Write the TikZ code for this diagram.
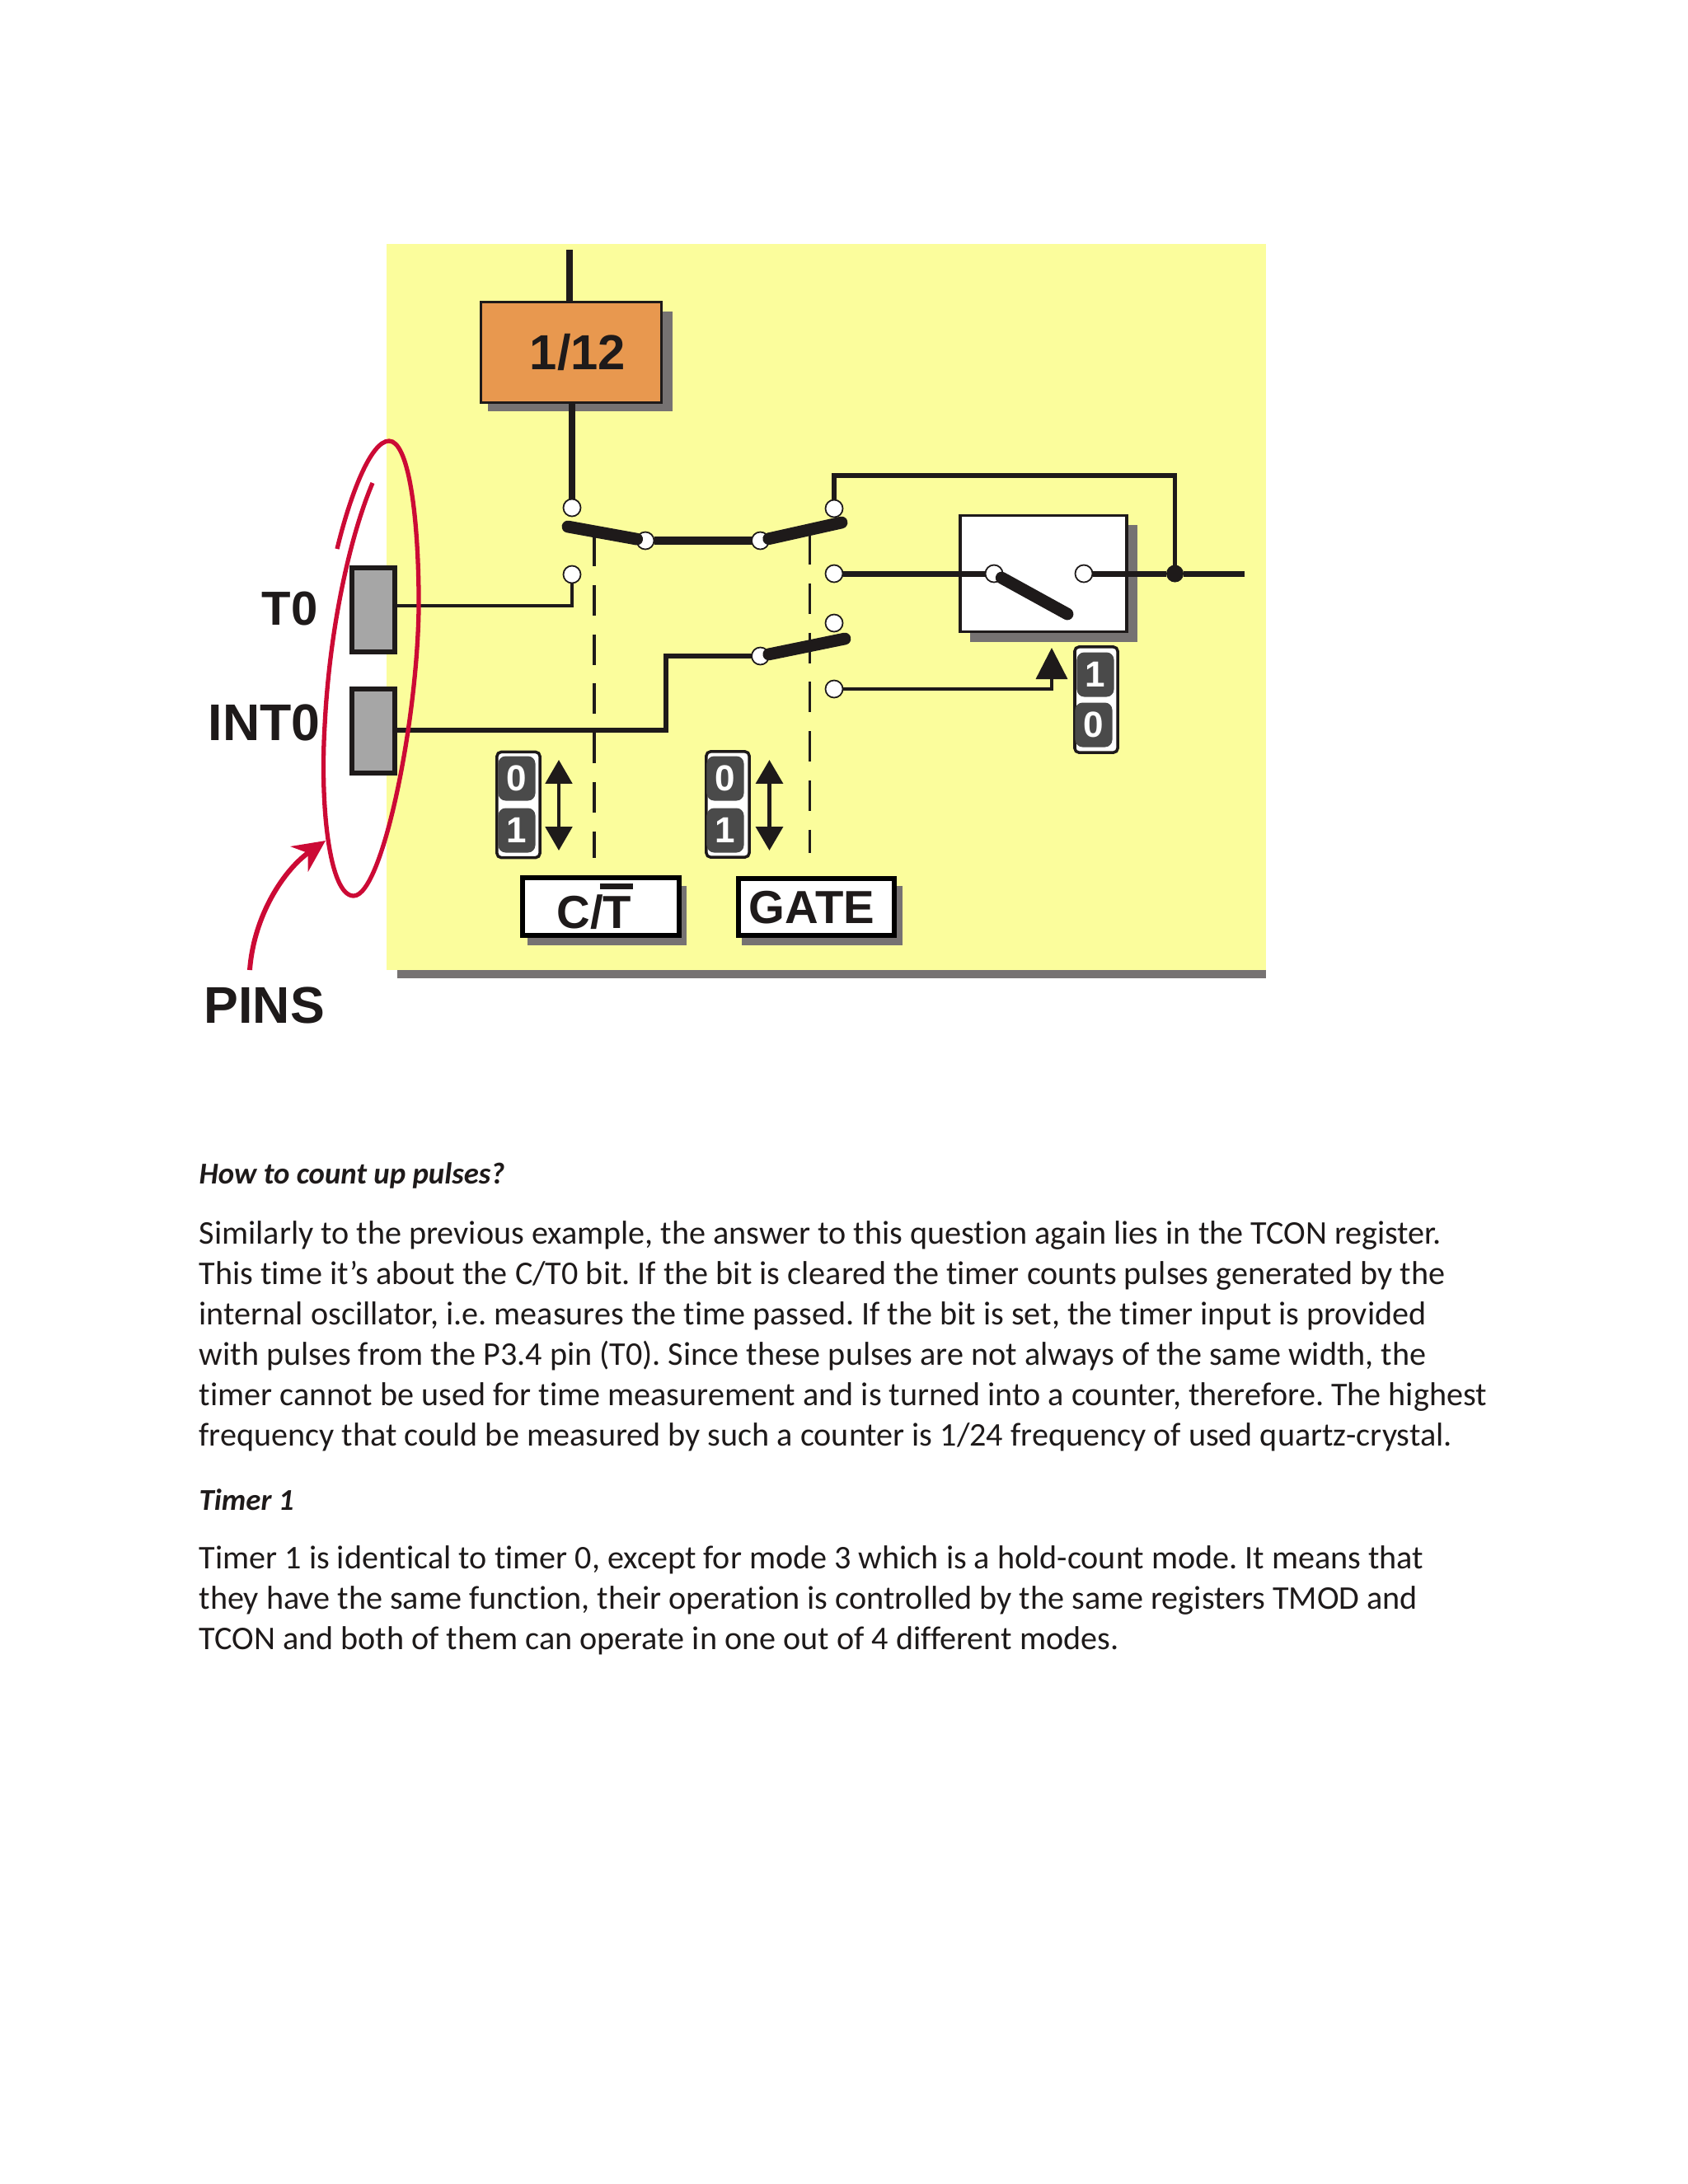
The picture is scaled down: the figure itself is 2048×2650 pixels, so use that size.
\documentclass[tikz,border=0pt]{standalone}
\usepackage{fontspec}
\usepackage{xcolor}
\setmainfont{Liberation Sans}
\newfontfamily\bodyfont[Ligatures=NoCommon]{Carlito}
\usetikzlibrary{arrows.meta}
\definecolor{panelyellow}{HTML}{FBFD9C}
\definecolor{shadowgrey}{HTML}{767272}
\definecolor{boxorange}{HTML}{E8984F}
\definecolor{pingrey}{HTML}{A6A6A6}
\definecolor{bitgrey}{HTML}{4A4A4A}
\definecolor{inkblack}{HTML}{1E1A1A}
\definecolor{penred}{HTML}{CC0A35}
\tikzset{
  contact/.style={circle,draw=inkblack,fill=white,line width=0.5pt,minimum size=0.21cm,inner sep=0pt,outer sep=0pt},
  wire/.style={inkblack,line width=2pt},
  thinwire/.style={inkblack,line width=1pt},
  blade/.style={inkblack,line width=4.2pt,line cap=round},
  dashline/.style={inkblack,line width=1pt,dash pattern=on 10.5pt off 6.5pt},
  pinbox/.style={draw=inkblack,line width=1.7pt,fill=pingrey,inner sep=0pt,outer sep=0pt,minimum width=0.51cm,minimum height=1.02cm},
  labelbox/.style={draw=black,line width=1.8pt,fill=white,inner sep=0pt,outer sep=0pt},
  labeltext/.style={font=\fontsize{16}{18}\selectfont\bfseries,text=inkblack,inner sep=0pt},
  pintext/.style={font=\fontsize{16.5}{20}\selectfont\bfseries,text=inkblack,inner sep=0pt},
  badge/.style={draw=inkblack,line width=1pt,fill=white,rounded corners=0.05cm,inner sep=0pt,minimum width=0.52cm,minimum height=1.28cm},
  bit/.style={fill=bitgrey,rounded corners=0.09cm,inner sep=0pt,minimum width=0.45cm,minimum height=0.54cm,text=white,font=\fontsize{12.5}{14}\selectfont\bfseries},
  updown/.style={inkblack,line width=1.1pt,{Triangle[length=8.2pt,width=9.2pt]}-{Triangle[length=8.2pt,width=9.2pt]}},
  bodytext/.style={anchor=north west,align=left,inner sep=0pt,text=inkblack,font=\bodyfont\fontsize{11.415}{13.94}\selectfont\frenchspacing},
  headtext/.style={bodytext,font=\bodyfont\fontsize{10.45}{13.94}\selectfont\bfseries\itshape},
}
\begin{document}
\begin{tikzpicture}[x=0.01cm,y=-0.01cm]
\useasboundingbox (0,0) rectangle (2048,2650);
\fill[white] (0,0) rectangle (2048,2650);
\fill[shadowgrey] (482,1170) rectangle (1536,1187);
\fill[panelyellow] (469,296) rectangle (1536,1177);
\fill[shadowgrey] (592,378) rectangle (816,499);
\fill[shadowgrey] (1177,637) rectangle (1380,779);
\fill[shadowgrey] (640,1075) rectangle (833,1147);
\fill[shadowgrey] (900,1075) rectangle (1095,1147);

\coordinate (clk) at (691,303);
\node[draw=inkblack,line width=0.8pt,fill=boxorange,inner sep=0pt,outer sep=0pt,minimum width=2.19cm,minimum height=1.215cm,font=\fontsize{17}{20}\selectfont\bfseries,text=inkblack] (div) at (693,427.5) {\hspace*{0.16cm}1/12};
\node[draw=inkblack,line width=0.9pt,fill=white,inner sep=0pt,outer sep=0pt,minimum width=2.02cm,minimum height=1.405cm] (gatebox) at (1266,696) {};
\node[pinbox] (pinone) at (453,740) {};
\node[pinbox] (pintwo) at (453,887) {};
\node[labelbox,minimum width=1.905cm,minimum height=0.70cm] (ctbox) at (729,1100) {};
\node[labelbox,minimum width=1.89cm,minimum height=0.69cm] (gatelabel) at (990.5,1100.5) {};
\node[labeltext] (cttext) at (721,1107) {C/T};
\node[labeltext] (gatetext) at (985,1101) {GATE};
\fill[inkblack] (728,1072) rectangle (768,1079);

\node[contact] (a) at (694,616) {};
\node[contact] (b) at (694,697) {};
\node[contact] (c) at (783,656) {};
\node[contact] (d) at (922.5,656) {};
\node[contact] (e) at (1012,617) {};
\node[contact] (f) at (1012,696) {};
\node[contact] (g) at (1012,756) {};
\node[contact] (h) at (1012,836) {};
\node[contact] (i) at (922.5,796) {};
\node[contact] (j) at (1206,696) {};
\node[contact] (k) at (1315,696) {};
\node[circle,fill=inkblack,minimum size=0.21cm,inner sep=0pt,outer sep=0pt] (dot) at (1425.5,696) {};

\coordinate (leftend) at (689,639);
\coordinate (rightend) at (1021,634);
\coordinate (lowend) at (1025,775);
\coordinate (bladeend) at (1295,745);
\coordinate (out) at (1510,696);
\coordinate (gatetip) at (1276,786);
\coordinate (kink) at (808,796);

\draw[wire] (clk) -- (clk |- div.north);
\draw[wire] (a |- div.south) -- (a);
\draw[thinwire] (pinone.east |- 0,735) -| (b);
\draw[wire,line width=1.6pt] (pintwo.east |- 0,886) -| (kink) -- (i);
\draw[wire,line width=3pt] (c) -- (d);
\draw[blade] (c) -- (leftend);
\draw[blade] (d) -- (rightend);
\draw[blade] (i) -- (lowend);
\draw[blade] (j) -- (bladeend);
\draw[wire] (f) -- (j);
\draw[wire] (k) -- (dot);
\draw[wire] (dot) -- (out);
\draw[wire,line width=1.6pt] (e) |- (1425.5,577) -- (dot);
\draw[thinwire,-{Triangle[length=10.8pt,width=10.8pt]}] (h) -| (gatetip);
\draw[dashline] (721,650) -- (721,1041);
\draw[dashline] (982.5,648) -- (982.5,1035);

\node[badge] (ctbadge) at (629,976.5) {};
\node[bit] (ctzero) at (627,944.5) {0};
\node[bit] (ctone) at (627,1007.5) {1};
\node[badge] (gatebadge) at (883,976) {};
\node[bit] (gatezero) at (880,944.5) {0};
\node[bit] (gateone) at (880,1007.5) {1};
\node[badge] (modebadge) at (1330,849) {};
\node[bit] (modeone) at (1329,818.5) {1};
\node[bit] (modezero) at (1327,879.5) {0};
\coordinate (ctup) at (678,922);
\coordinate (ctdown) at (678,1032);
\coordinate (gateup) at (933.5,922);
\coordinate (gatedown) at (933.5,1032);
\draw[updown] (ctup) -- (ctdown);
\draw[updown,line width=1.4pt] (gateup) -- (gatedown);

\node[pintext,anchor=east] (tzero) at (386,739) {T0};
\node[pintext,font=\fontsize{17.8}{20}\selectfont\bfseries,anchor=east] (intzero) at (389,877) {INT0};
\node[pintext,font=\fontsize{17.8}{20}\selectfont\bfseries,anchor=west] (pins) at (247,1220) {PINS};

\draw[penred,line width=1.5pt] (452,586) .. controls (425,650) and (400,760) .. (394,880) .. controls (388,980) and (400,1087) .. (429,1087) .. controls (465,1087) and (510,860) .. (508,720) .. controls (507,620) and (495,535) .. (472,535) .. controls (450,535) and (425,600) .. (409,666);
\coordinate (pinsfoot) at (303,1177);
\coordinate (pinstip) at (395,1020);
\draw[penred,line width=1.7pt,-{Stealth[length=11pt,width=10.5pt]}] (pinsfoot) .. controls (308,1110) and (345,1055) .. (pinstip);

\node[headtext] (headone) at (241,1410) {How to count up pulses?};
\node[bodytext] (paraone) at (241,1481) {Similarly to the previous example, the answer to this question again lies in the TCON register.\\
This time it’s about the C/T0 bit. If the bit is cleared the timer counts pulses generated by the\\
internal oscillator, i.e. measures the time passed. If the bit is set, the timer input is provided\\
with pulses from the P3.4 pin (T0). Since these pulses are not always of the same width, the\\
timer cannot be used for time measurement and is turned into a counter, therefore. The highest\\
frequency that could be measured by such a counter is 1/24 frequency of used quartz-crystal.};
\node[headtext] (headtwo) at (241,1806) {Timer 1};
\node[bodytext] (paratwo) at (241,1875) {Timer 1 is identical to timer 0, except for mode 3 which is a hold-count mode. It means that\\
they have the same function, their operation is controlled by the same registers TMOD and\\
TCON and both of them can operate in one out of 4 different modes.};
\end{tikzpicture}
\end{document}
